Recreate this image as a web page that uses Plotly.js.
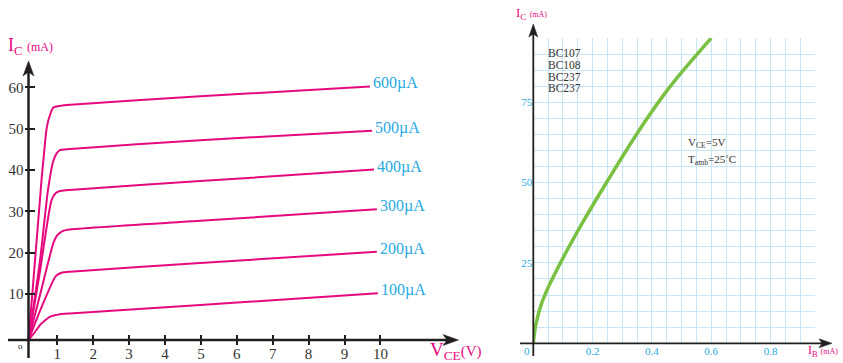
<!DOCTYPE html>
<html>
<head>
<meta charset="utf-8">
<script src="https://cdn.plot.ly/plotly-3.0.1.min.js"></script>
<style>
html,body{margin:0;padding:0;background:#fff;}
#chart{width:843px;height:363px;}
</style>
</head>
<body>
<div id="chart"></div>
<script>
// ---------- Data: left chart (output characteristics) ----------
const vceTicks = [1,2,3,4,5,6,7,8,9,10];
const icTicks = [10,20,30,40,50,60];
const ibLabels = ["100µA","200µA","300µA","400µA","500µA","600µA"];

const vce100 = [0.2, 0.38, 0.52, 0.80, 1.075, 1.35, 4.98, 9.93];
const ic100  = [-1.1, 0.8, 2.5, 4.5, 5.1, 5.3, 7.3, 10.2];

const vce200 = [0.2, 0.55, 0.94, 1.03, 1.14, 1.35, 4.98, 9.90];
const ic200  = [-1.1, 6.6, 14.1, 14.8, 15.2, 15.4, 17.5, 20.2];

const vce300 = [0.2, 0.52, 0.89, 0.99, 1.12, 1.26, 4.98, 9.90];
const ic300  = [-1.1, 9.8, 22.3, 24.1, 25.1, 25.5, 27.7, 30.5];

const vce400 = [0.2, 0.52, 0.84, 0.96, 1.075, 1.24, 4.98, 9.82];
const ic400  = [-1.1, 15.6, 32.7, 34.4, 34.9, 35.1, 37.3, 40.1];

const vce500 = [0.2, 0.52, 0.74, 0.88, 0.98, 1.075, 1.26, 4.98, 9.77];
const ic500  = [-1.1, 18.2, 35.1, 41.9, 44.0, 44.8, 45.0, 47.2, 49.5];

const vce600 = [0.2, 0.52, 0.565, 0.61, 0.705, 0.80, 0.89, 1.075, 1.26, 4.98, 9.71];
const ic600  = [-1.1, 33.2, 38.1, 42.1, 50.2, 53.4, 55.1, 55.5, 55.7, 57.8, 60.2];

// ---------- Data: right chart (transfer characteristic) ----------
const ibTicks = [0.2, 0.4, 0.6, 0.8];
const icTicks2 = [25, 50, 75];
const ibVals = [0, 0.009, 0.028, 0.051, 0.10, 0.169, 0.25, 0.35, 0.44, 0.50, 0.60];
const icVals = [0, 6.0, 12.4, 17.5, 26.5, 38.0, 50.5, 65.3, 77.3, 84.3, 95.0];
const typeNames = ["BC107","BC108","BC237","BC237"];

// ---------- Styling ----------
const W = 843, H = 363;
const fx = p => p / W;
const fy = p => 1 - p / H;
const SERIF = "Liberation Serif, Times New Roman, serif";
const MAGENTA = "#e5087e";
const CYAN = "#27aae1";
const GREEN = "#7ac143";
const GRID = "#c6e6f6";
const AXIS = "#231f20";

const leftX = [vce100, vce200, vce300, vce400, vce500, vce600];
const leftY = [ic100, ic200, ic300, ic400, ic500, ic600];

const traces = leftX.map((xs, i) => ({
  x: xs, y: leftY[i], xaxis: 'x', yaxis: 'y',
  type: 'scatter', mode: 'lines',
  line: {color: MAGENTA, width: 2, shape: 'spline', smoothing: 0.6},
  hoverinfo: 'skip', showlegend: false
}));
traces.push({
  x: ibVals, y: icVals, xaxis: 'x2', yaxis: 'y2',
  type: 'scatter', mode: 'lines',
  line: {color: GREEN, width: 3.5, shape: 'spline', smoothing: 1},
  hoverinfo: 'skip', showlegend: false
});

// curve labels placed at the end of each curve
const annotations = leftX.map((xs, i) => ({
  x: xs[xs.length - 1], y: leftY[i][leftY[i].length - 1],
  xref: 'x', yref: 'y', text: ibLabels[i], showarrow: false,
  xanchor: 'left', yanchor: 'middle', xshift: 1, yshift: 3,
  font: {family: SERIF, size: 16, color: CYAN}
}));

function ann(px, py, text, size, color, xanchor, yanchor) {
  return {x: fx(px), y: fy(py), xref: 'paper', yref: 'paper', text: text,
    showarrow: false, xanchor: xanchor || 'left', yanchor: yanchor || 'middle',
    font: {family: SERIF, size: size, color: color}};
}
annotations.push(ann(6, 47, "I<sub>C</sub> <span style='font-size:12px'>(mA)</span>", 18, MAGENTA));
annotations.push(ann(428, 350.5, "V<sub>CE</sub><span style='font-size:15px'>(V)</span>", 19, MAGENTA));
annotations.push(ann(20.5, 346, "o", 9, AXIS, 'center'));
annotations.push(ann(514, 13, "I<sub>C</sub> <span style='font-size:8px'>(mA)</span>", 13, MAGENTA));
annotations.push(ann(806, 351, "I<sub>B</sub> <span style='font-size:8px'>(mA)</span>", 12, MAGENTA));
annotations.push(ann(526.7, 351, "0", 11, CYAN, 'center'));
typeNames.forEach((t, i) => annotations.push(ann(546, 53.3 + i * 11.7, t, 11.5, '#333')));
annotations.push(ann(686, 143, "V<sub>CE</sub>=5V", 11, '#333'));
annotations.push(ann(686, 160, "T<sub>amb</sub>=25˚C", 11, '#333'));

function pline(x0, y0, x1, y1, w) {
  return {type: 'line', xref: 'paper', yref: 'paper', x0: fx(x0), y0: fy(y0), x1: fx(x1), y1: fy(y1),
    line: {color: AXIS, width: w}, layer: 'above'};
}
function arrow(pts) {
  const d = pts.map((p, i) => (i ? 'L' : 'M') + fx(p[0]) + ',' + fy(p[1])).join(' ') + ' Z';
  return {type: 'path', xref: 'paper', yref: 'paper', path: d, fillcolor: AXIS,
    line: {color: AXIS, width: 0.5}, layer: 'above'};
}
const shapes = [
  // left axes
  pline(28.5, 358, 28.5, 70, 2.5),
  arrow([[28.5, 61], [23, 76], [28.5, 72], [34, 76]]),
  pline(8, 340, 449, 340, 2.5),
  arrow([[458.5, 340], [443, 334.5], [447, 340], [443, 345.5]]),
  // right axes
  pline(533.3, 356, 533.3, 32, 1.8),
  arrow([[533.3, 24], [528.8, 37], [533.3, 34], [537.8, 37]]),
  pline(520, 343.3, 822, 343.3, 1.8),
  arrow([[832, 343.3], [819, 338.8], [822, 343.3], [819, 347.8]])
];

const layout = {
  width: W, height: H,
  margin: {l: 0, r: 0, t: 0, b: 0, pad: 0},
  paper_bgcolor: '#fff', plot_bgcolor: 'rgba(0,0,0,0)',
  showlegend: false,
  xaxis: {
    domain: [0, fx(480)], range: [(0 - 21.4) / 35.9, (480 - 21.4) / 35.9],
    anchor: 'free', position: fy(345),
    tickmode: 'array', tickvals: vceTicks, ticktext: vceTicks.map(String),
    ticks: 'inside', ticklen: 10, tickwidth: 2, tickcolor: AXIS,
    ticklabelstandoff: -2,
    showline: false, showgrid: false, zeroline: false, automargin: false,
    tickfont: {family: SERIF, size: 15, color: '#333'}, fixedrange: true
  },
  yaxis: {
    domain: [0, 1], range: [(335.3 - 363) / 4.134, 335.3 / 4.134],
    anchor: 'free', position: fx(23.5),
    tickmode: 'array', tickvals: icTicks, ticktext: icTicks.map(String),
    ticks: 'inside', ticklen: 10, tickwidth: 2, tickcolor: AXIS,
    showline: false, showgrid: false, zeroline: false, automargin: false,
    tickfont: {family: SERIF, size: 15, color: '#333'}, fixedrange: true
  },
  xaxis2: {
    domain: [fx(533.3), fx(815)], range: [0, 0.95], anchor: 'y2',
    tickmode: 'array', tickvals: ibTicks, ticktext: ibTicks.map(v => v.toFixed(1)),
    ticks: '', showline: false, zeroline: false, automargin: false,
    showgrid: true, gridcolor: GRID, gridwidth: 1,
    minor: {tickmode: 'linear', tick0: 0, dtick: 0.05, showgrid: true, gridcolor: GRID, gridwidth: 1, ticks: ''},
    tickfont: {family: SERIF, size: 11, color: CYAN}, fixedrange: true
  },
  yaxis2: {
    domain: [fy(343.2), fy(38.06)], range: [0, 95], anchor: 'x2',
    tickmode: 'array', tickvals: icTicks2, ticktext: icTicks2.map(String),
    ticks: '', showline: false, zeroline: false, automargin: false,
    showgrid: true, gridcolor: GRID, gridwidth: 1,
    minor: {tickmode: 'linear', tick0: 0, dtick: 5, showgrid: true, gridcolor: GRID, gridwidth: 1, ticks: ''},
    tickfont: {family: SERIF, size: 11, color: CYAN}, fixedrange: true
  },
  annotations: annotations,
  shapes: shapes
};

Plotly.newPlot('chart', traces, layout, {staticPlot: true, displayModeBar: false});
</script>
</body>
</html>
